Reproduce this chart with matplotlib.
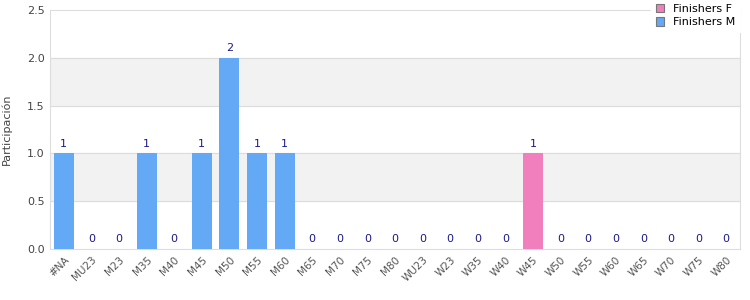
import numpy as np
import matplotlib.pyplot as plt

categories = ['#NA', 'MU23', 'M23', 'M35', 'M40', 'M45', 'M50', 'M55', 'M60', 'M65',
              'M70', 'M75', 'M80', 'WU23', 'W23', 'W35', 'W40', 'W45', 'W50', 'W55',
              'W60', 'W65', 'W70', 'W75', 'W80']
finishers_m = [1, 0, 0, 1, 0, 1, 2, 1, 1, 0, 0, 0, 0, 0, 0, 0, 0, 0, 0, 0, 0, 0, 0, 0, 0]
finishers_f = [0, 0, 0, 0, 0, 0, 0, 0, 0, 0, 0, 0, 0, 0, 0, 0, 0, 1, 0, 0, 0, 0, 0, 0, 0]

blue = '#63a9f5'
pink = '#f17fbd'

fig = plt.figure(figsize=(7.5, 3), dpi=100)
ax = fig.add_axes([50 / 750, 51 / 300, 690 / 750, 239 / 300])

x = np.arange(len(categories))
m = np.array(finishers_m)
f = np.array(finishers_f)
ax.bar(x, m, width=0.72, color=blue, label='Finishers M', zorder=3)
ax.bar(x, f, width=0.72, bottom=m, color=pink, label='Finishers F', zorder=3)

for xi, total in zip(x, m + f):
    ax.text(xi, total + 0.05, str(total), ha='center', va='bottom',
            fontsize=8, color='#1a1a8c', zorder=4)

ax.set_xlim(-0.5, len(categories) - 0.5)
ax.set_ylim(0, 2.5)
ax.set_yticks([0, 0.5, 1.0, 1.5, 2.0, 2.5])
ax.set_yticklabels(['0.0', '0.5', '1.0', '1.5', '2.0', '2.5'])
for lo in [0.5, 1.5]:
    ax.axhspan(lo, lo + 0.5, color='#f2f2f2', zorder=0)
for yv in [0.5, 1.0, 1.5, 2.0]:
    ax.axhline(yv, color='#dddddd', lw=0.8, zorder=1)

ax.set_xticks(x)
ax.set_xticklabels(categories, rotation=45, ha='right', rotation_mode='anchor')
ax.tick_params(axis='x', labelsize=7.5, colors='#555555', length=0, pad=4)
ax.tick_params(axis='y', labelsize=8, colors='#444444', length=0, pad=4)
ax.set_ylabel('Participación', fontsize=8, color='#444444', labelpad=11)

for s in ax.spines.values():
    s.set_color('#dddddd')
    s.set_linewidth(0.8)

handles, labels = ax.get_legend_handles_labels()
leg = ax.legend(handles[::-1], labels[::-1], loc='upper right', bbox_to_anchor=(1.0, 1.045),
                fontsize=8, frameon=True, fancybox=False, borderaxespad=0,
                handlelength=0.8, handleheight=0.8, labelspacing=0.3)
leg.get_frame().set_edgecolor('white')
leg.get_frame().set_alpha(1)
for h in leg.legend_handles:
    h.set_edgecolor('#777777')
    h.set_linewidth(0.8)
leg.set_zorder(5)

fig.savefig('out.png', dpi=100)
